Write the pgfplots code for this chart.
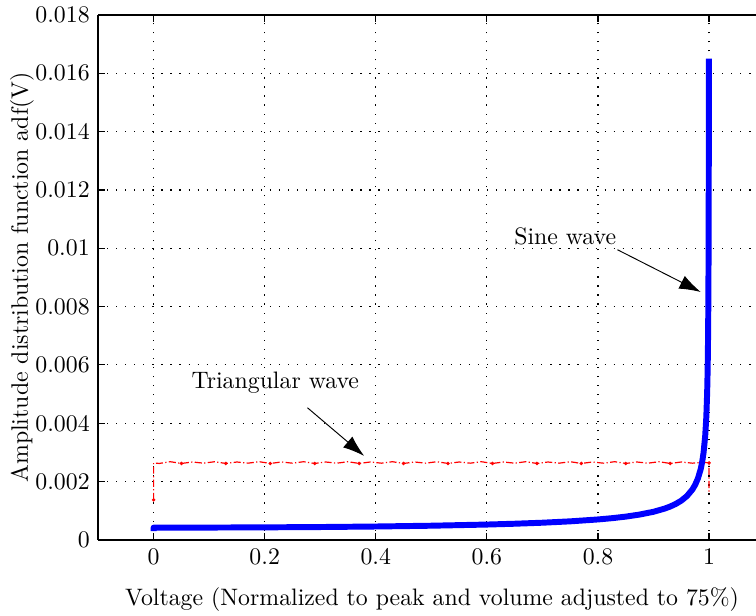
\documentclass[border=0pt]{standalone}
\usepackage{pgfplots}
\pgfplotsset{compat=1.18}
\usetikzlibrary{arrows.meta}
\begin{document}
\begin{tikzpicture}
\begin{axis}[
  scale only axis,
  width=276.4pt, height=220.5pt,
  xmin=-0.1, xmax=1.0845,
  ymin=0, ymax=0.018,
  axis x line*=box, axis y line*=left,
  axis line style={-, black, line width=0.6pt},
  xtick={0,0.2,0.4,0.6,0.8,1},
  xticklabels={0,0.2,0.4,0.6,0.8,1},
  ytick={0,0.002,0.004,0.006,0.008,0.01,0.012,0.014,0.016,0.018},
  yticklabels={0,0.002,0.004,0.006,0.008,0.01,0.012,0.014,0.016,0.018},
  scaled y ticks=false, scaled x ticks=false,
  tick align=inside,
  tick style={black, line width=0.5pt},
  major tick length=3pt,
  grid=major,
  major grid style={black, line width=0.5pt, dash pattern=on 0.5pt off 3.3pt},
  xlabel={Voltage (Normalized to peak and volume adjusted to 75\%)},
  ylabel={Amplitude distribution function adf(V)},
  xlabel style={at={(axis description cs:0.5076,0)}, anchor=center, yshift=-25.2pt},
  ylabel style={at={(axis description cs:-0.1158,0.5)}, anchor=center},
  clip=false,
]
% triangular wave
\addplot[red, line width=0.5pt, densely dashdotted, mark=*, mark size=0.45pt, mark repeat=4, mark options={solid}] coordinates {
(0,0.00137)(0,0.00264)(0.01,0.00262)(0.03,0.00268)(0.05,0.00262)(0.07,0.00267)(0.09,0.00263)
(0.11,0.00268)(0.13,0.00262)(0.15,0.00267)(0.17,0.00263)(0.19,0.00268)(0.21,0.00262)
(0.23,0.00267)(0.25,0.00263)(0.27,0.00268)(0.29,0.00262)(0.31,0.00267)(0.33,0.00263)
(0.35,0.00268)(0.37,0.00262)(0.39,0.00267)(0.41,0.00263)(0.43,0.00268)(0.45,0.00262)
(0.47,0.00267)(0.49,0.00263)(0.51,0.00268)(0.53,0.00262)(0.55,0.00267)(0.57,0.00263)
(0.59,0.00268)(0.61,0.00262)(0.63,0.00267)(0.65,0.00263)(0.67,0.00268)(0.69,0.00262)
(0.71,0.00267)(0.73,0.00263)(0.75,0.00268)(0.77,0.00262)(0.79,0.00267)(0.81,0.00263)
(0.83,0.00268)(0.85,0.00262)(0.87,0.00267)(0.89,0.00263)(0.91,0.00268)(0.93,0.00262)
(0.95,0.00267)(0.97,0.00263)(0.99,0.00266)(1,0.00264)(1,0.00165)
};
% sine wave
\addplot[blue, line width=2.5pt, mark=none, line join=round] coordinates {
(0,0.00030)(0,0.00042)(0.1,0.000422)(0.2,0.000429)(0.3,0.00044)(0.4,0.000458)(0.5,0.000485)
(0.6,0.000525)(0.65,0.000553)(0.7,0.000588)(0.75,0.000635)(0.8,0.0007)(0.825,0.000743)
(0.85,0.000797)(0.875,0.000868)(0.9,0.000963)(0.92,0.001072)(0.93,0.001143)(0.94,0.001231)
(0.95,0.001345)(0.96,0.0015)(0.97,0.001728)(0.975,0.00189)(0.98,0.00211)(0.985,0.00243)
(0.9875,0.002665)(0.99,0.00298)(0.993,0.003556)(0.995,0.0042)(0.9965,0.005025)
(0.997,0.005426)(0.9975,0.00594)(0.998,0.00664)(0.9985,0.00767)(0.9988,0.00858)
(0.999,0.00939)(0.9991,0.0099)(0.9993,0.01123)(0.9995,0.01328)(0.9996,0.01485)(0.9997,0.0165)
};
\node at (axis cs:0.741,0.0104) {Sine wave};
\draw[-{Latex[length=9pt,width=6pt]}, line width=0.4pt] (axis cs:0.835,0.00995) -- (axis cs:0.985,0.0085);
\node at (axis cs:0.219,0.00539) {Triangular wave};
\draw[-{Latex[length=9pt,width=6pt]}, line width=0.4pt] (axis cs:0.277,0.00453) -- (axis cs:0.379,0.00288);
\end{axis}
\pgfresetboundingbox
\path[use as bounding box] ([xshift=-41.2pt,yshift=-31.9pt]current axis.south west) rectangle ([yshift=6.3pt]current axis.north east);
\end{tikzpicture}
\end{document}
